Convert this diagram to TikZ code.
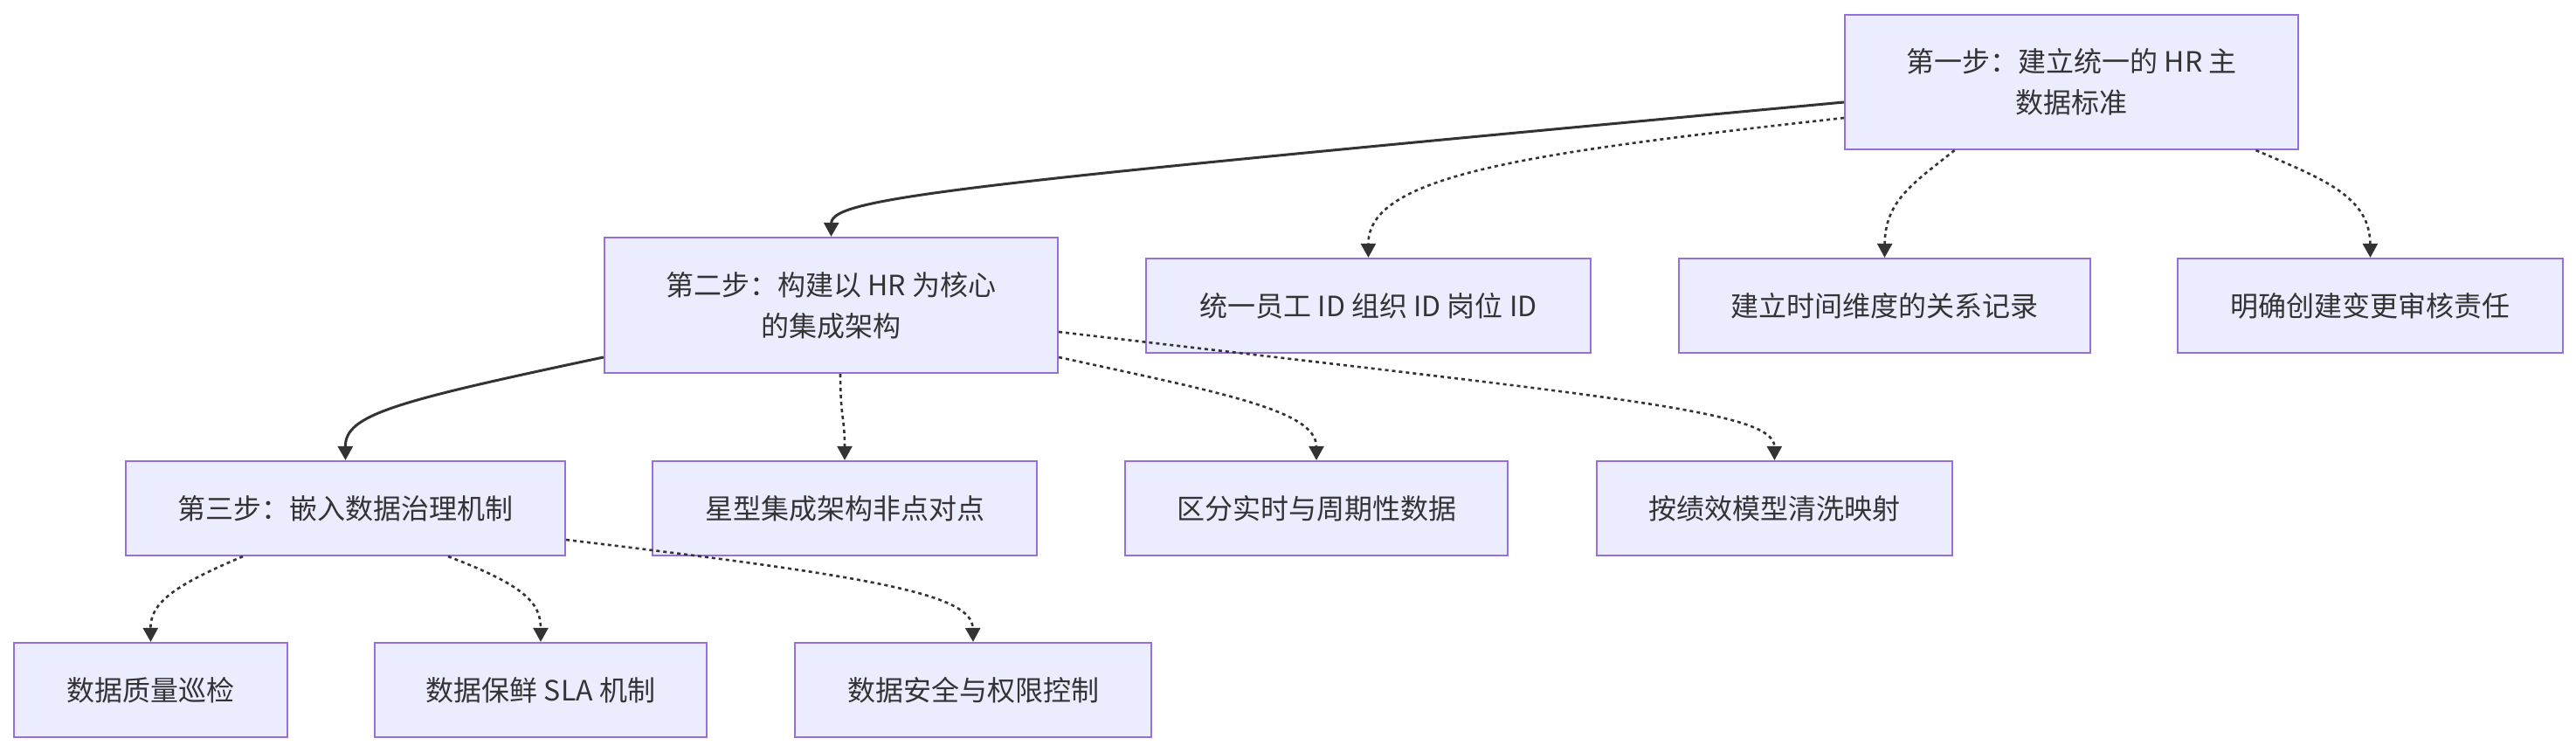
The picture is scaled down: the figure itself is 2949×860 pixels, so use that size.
\documentclass[tikz,border=0pt]{standalone}
\usepackage{fontspec}
\setmainfont{Noto Sans CJK SC}
\usetikzlibrary{arrows.meta,calc}
\definecolor{boxfill}{HTML}{ECECFF}
\definecolor{boxline}{HTML}{9370DB}
\definecolor{ink}{HTML}{333333}
\tikzset{
  box/.style={draw=boxline, fill=boxfill, line width=2.2pt, text=ink, align=center,
    inner sep=0pt, font=\fontsize{32}{47}\selectfont},
  solidedge/.style={draw=ink, line width=3pt, -{Triangle[length=16pt,width=17pt]}},
  dotedge/.style={draw=ink, line width=2.6pt, dash pattern=on 4pt off 4pt, -{Triangle[length=16pt,width=17pt]}}
}
\begin{document}
\begin{tikzpicture}[x=1pt,y=-1pt]
\useasboundingbox (0,0) rectangle (2949,860);
% top level
\node[box, minimum width=519pt, minimum height=154pt] (s1) at (2371.5,94) {第一步：建立统一的 HR 主\\数据标准};
\node[box, minimum width=509pt, minimum height=108pt] (a1) at (1566.5,350) {统一员工 ID 组织 ID 岗位 ID};
\node[box, minimum width=471pt, minimum height=108pt] (a2) at (2157.5,350) {建立时间维度的关系记录};
\node[box, minimum width=441pt, minimum height=108pt] (a3) at (2713.5,350) {明确创建变更审核责任};
% second level
\node[box, minimum width=519pt, minimum height=155pt] (s2) at (951.5,349.5) {第二步：构建以 HR 为核心\\的集成架构};
\node[box, minimum width=440pt, minimum height=108pt] (b1) at (967,582) {星型集成架构非点对点};
\node[box, minimum width=438pt, minimum height=108pt] (b2) at (1507,582) {区分实时与周期性数据};
\node[box, minimum width=407pt, minimum height=108pt] (b3) at (2031.5,582) {按绩效模型清洗映射};
% third level
\node[box, minimum width=503pt, minimum height=108pt] (s3) at (395.5,582) {第三步：嵌入数据治理机制};
\node[box, minimum width=313pt, minimum height=108pt] (c1) at (172.5,790) {数据质量巡检};
\node[box, minimum width=380pt, minimum height=108pt] (c2) at (619,790) {数据保鲜 SLA 机制};
\node[box, minimum width=408pt, minimum height=108pt] (c3) at (1114,790) {数据安全与权限控制};

% edges from s1
\draw[solidedge] ($(s1.west)+(0,23)$) .. controls (1100,211) and (952,226) .. (s2.north);
\draw[dotedge] ($(s1.west)+(0,41)$) .. controls (1750,175) and (1566,200) .. (a1.north);
\draw[dotedge] ($(s1.south)+(-134,0)$) .. controls (2190,210) and (2158,230) .. (a2.north);
\draw[dotedge] ($(s1.south)+(211,0)$) .. controls (2660,205) and (2713,225) .. (a3.north);
% edges from s2
\draw[solidedge] ($(s2.west)+(0,59.5)$) .. controls (450,460) and (395,475) .. (s3.north);
\draw[dotedge] ($(s2.south)+(10.5,0)$) .. controls (962,478) and (967,478) .. (b1.north);
\draw[dotedge] ($(s2.east)+(0,59.5)$) .. controls (1400,450) and (1507,470) .. (b2.north);
\draw[dotedge] ($(s2.east)+(0,30.5)$) .. controls (1850,455) and (2031,470) .. (b3.north);
% edges from s3
\draw[dotedge] ($(s3.south)+(-117.5,0)$) .. controls (200,670) and (172,690) .. (c1.north);
\draw[dotedge] ($(s3.south)+(117.5,0)$) .. controls (600,670) and (619,690) .. (c2.north);
\draw[dotedge] ($(s3.east)+(0,36)$) .. controls (1000,660) and (1113,680) .. (c3.north);
\end{tikzpicture}
\end{document}
